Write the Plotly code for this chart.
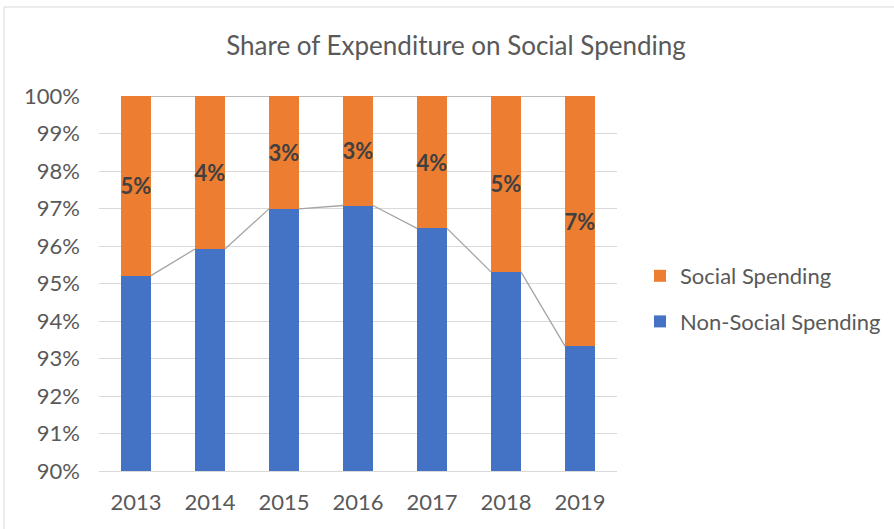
import plotly.graph_objects as go

years = ["2013", "2014", "2015", "2016", "2017", "2018", "2019"]
non_social = [95.21, 95.92, 96.99, 97.08, 96.47, 95.31, 93.33]
social = [4.79, 4.08, 3.01, 2.92, 3.53, 4.69, 6.67]
social_labels = ["5%", "4%", "3%", "3%", "4%", "5%", "7%"]

BLUE = "#4472C4"
ORANGE = "#ED7D31"
GREY_TXT = "#595959"
FONT = "Lato"
W = 0.405

xs = list(range(len(years)))

fig = go.Figure()
fig.add_trace(go.Bar(
    x=xs, y=non_social, name="Non-Social Spending", marker_color=BLUE,
    marker_line_width=0, width=W, legendgroup="a", legendrank=2, hoverinfo="y",
))
fig.add_trace(go.Bar(
    x=xs, y=social, name="Social Spending", marker_color=ORANGE,
    marker_line_width=0, width=W, legendgroup="b", legendrank=1,
    text=social_labels, textposition="inside", insidetextanchor="middle",
    constraintext="none", cliponaxis=False,
    textfont=dict(family=FONT, size=22, color="#404040", weight="bold"),
    textangle=0,
))

# series lines connecting the tops of the segments (Excel style)
lx, ly = [], []
tops = [a + b for a, b in zip(non_social, social)]
for series in (non_social, tops):
    for i in range(len(xs) - 1):
        lx += [xs[i] + W / 2, xs[i + 1] - W / 2, None]
        ly += [series[i], series[i + 1], None]
fig.add_trace(go.Scatter(
    x=lx, y=ly, mode="lines", line=dict(color="#A5A5A5", width=1.3),
    showlegend=False, hoverinfo="skip",
))

fig.update_layout(
    width=894, height=529,
    barmode="stack",
    paper_bgcolor="white", plot_bgcolor="white",
    margin=dict(l=99, r=277, t=96, b=58, autoexpand=False),
    title=dict(text="Share of Expenditure on Social Spending",
               x=456 / 894, xanchor="center", y=1 - 46 / 529, yanchor="middle",
               font=dict(family=FONT, size=26, color=GREY_TXT)),
    font=dict(family=FONT, color=GREY_TXT),
    legend=dict(x=(640 - 99) / 518, y=(471 - 299) / 375, xanchor="left", yanchor="middle",
                tracegroupgap=14,
                font=dict(family=FONT, size=22, color=GREY_TXT),
                itemwidth=30),
    showlegend=True,
    shapes=[dict(type="rect", xref="paper", yref="paper",
                 x0=(4 - 99) / 518, x1=(900 - 99) / 518,
                 y0=(471 - 540) / 375, y1=(471 - 7) / 375,
                 line=dict(color="#D9D9D9", width=1), layer="below")],
)
fig.update_xaxes(
    tickmode="array", tickvals=xs, ticktext=years, range=[-0.5, len(xs) - 0.5],
    showgrid=False, showline=True, linecolor="#D9D9D9", linewidth=1,
    ticks="", ticklabelstandoff=12,
    tickfont=dict(family=FONT, size=22, color=GREY_TXT),
)
fig.update_yaxes(
    range=[90, 100], dtick=1, ticksuffix="%", showgrid=True, gridcolor="#D9D9D9",
    gridwidth=1, zeroline=False, showline=False, ticks="", ticklabelstandoff=18,
    tickfont=dict(family=FONT, size=22, color=GREY_TXT),
)

fig.write_html("out.html", config={"displayModeBar": False},
               post_script="document.body.style.margin='0';")
